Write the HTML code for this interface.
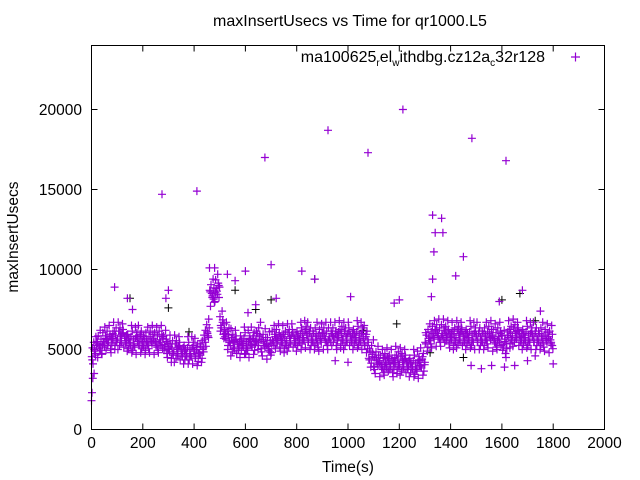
<!DOCTYPE html>
<html><head><meta charset="utf-8"><style>
body{margin:0;background:#fff}
svg{display:block;font-family:"Liberation Sans",sans-serif}
</style></head><body>
<svg id="chart" width="640" height="480" viewBox="0 0 640 480">
<text x="350" y="26" font-size="16" text-anchor="middle">maxInsertUsecs vs Time for qr1000.L5</text>
<text x="0" y="0" font-size="15.5" text-anchor="middle" transform="translate(18,237) rotate(-90)">maxInsertUsecs</text>
<text x="348" y="472" font-size="15.5" text-anchor="middle">Time(s)</text>
<g id="ticks"></g>
<g id="marks"></g>
<rect x="91.5" y="45.5" width="513" height="384" fill="none" stroke="#000" stroke-width="1"/>
<text x="545" y="62" font-size="16" text-anchor="end">ma100625<tspan font-size="10" dy="4">r</tspan><tspan dy="-4">el</tspan><tspan font-size="10" dy="4">w</tspan><tspan dy="-4">ithdbg.cz12a</tspan><tspan font-size="10" dy="4">c</tspan><tspan dy="-4">32r128</tspan></text>
<path d="M571 57h9M575.5 52.5v9" stroke="#9400d3" stroke-width="1.2"/>
</svg>
<script>
const xTicks=[0,200,400,600,800,1000,1200,1400,1600,1800,2000];
const yTicks=[0,5000,10000,15000,20000];
const bucketTimes=[0,20,40,60,80,100,120,140,160,180,200,220,240,260,280,300,320,340,360,380,400,420,440,460,480,500,520,540,560,580,600,620,640,660,680,700,720,740,760,780,800,820,840,860,880,900,920,940,960,980,1000,1020,1040,1060,1080,1100,1120,1140,1160,1180,1200,1220,1240,1260,1280,1300,1320,1340,1360,1380,1400,1420,1440,1460,1480,1500,1520,1540,1560,1580,1600,1620,1640,1660,1680,1700,1720,1740,1760,1780];
const bucketLevels=[4900,5300,5500,5600,5800,5800,5700,5600,5500,5600,5500,5600,5500,5600,5300,5000,5000,4900,4900,4900,4800,5000,6000,8500,8800,6500,5800,5400,5300,5500,5300,5500,5800,5400,5200,5600,5700,5600,5700,5700,5800,5900,5800,5800,5700,5800,5800,5800,5900,5800,5800,5900,5800,5600,4700,4300,4100,4200,4100,4300,4200,4100,4100,4000,4200,5700,5900,6000,6000,5900,5800,5900,5800,5900,5800,5800,5800,5900,5700,5800,5300,5900,6000,5800,5900,5800,5800,5800,5700,5600];
const jitterDt=[1,4,6,9,12,14,17,19,3,11,16];
const jitterDv=[-350,200,-800,550,0,-150,900,350,-550,100,-250];
const outlierTimes=[275,411,676,922,1078,1214,1483,1616,1330,1365,1340,1370,1450,1335,480,460,700,600,820,870,1010,1200,1325,90,300,290,1680,1590,0,2,5,10,640,720,1180,1750,1330,1420,140,160,1560,1520,1610,1650,1000,950,1800,1300,1480,530,560,610,1100,1140,1700,1730];
const outlierValues=[14700,14900,17000,18700,17300,20000,18200,16800,13400,13200,12300,12300,10800,11100,10100,10100,10300,9900,9900,9400,8300,8100,8300,8900,8700,8200,8700,8000,1800,2300,3200,3500,7800,8200,7900,7400,9400,9600,8200,7500,4000,3800,3900,4000,4200,4300,4100,4200,4000,9700,9300,7300,3900,4500,4300,4600];
const blackTimes=[150,300,560,640,700,870,1190,1320,1450,1600,1670,1730,380,1060];
const blackValues=[8200,7600,8700,7500,8100,9400,6600,4800,4500,8100,8500,6800,6100,6200];

const X=t=>91.5+t*(513/2000);
const Y=v=>429.5-v*(384/24000);
const NS='http://www.w3.org/2000/svg';
const tg=document.getElementById('ticks');
const mg=document.getElementById('marks');
function line(g,x1,y1,x2,y2,c,w){const l=document.createElementNS(NS,'line');l.setAttribute('x1',x1);l.setAttribute('y1',y1);l.setAttribute('x2',x2);l.setAttribute('y2',y2);l.setAttribute('stroke',c);l.setAttribute('stroke-width',w);g.appendChild(l);return l;}
xTicks.forEach(t=>{const x=X(t);
 const a=line(tg,x,429.5,x,423.5,'#000',1);
 
 
 const b=line(tg,x,45.5,x,51.5,'#000',1);
 
 
 const tx=document.createElementNS(NS,'text');tx.setAttribute('x',x);tx.setAttribute('y',448);tx.setAttribute('font-size','15.5');tx.setAttribute('text-anchor','middle');tx.textContent=t;
 
 
 tg.appendChild(tx);});
yTicks.forEach(v=>{const y=Y(v);
 const a=line(tg,91.5,y,97.5,y,'#000',1);
 
 
 const b=line(tg,604.5,y,598.5,y,'#000',1);
 
 
 const tx=document.createElementNS(NS,'text');tx.setAttribute('x',82);tx.setAttribute('y',y+5.5);tx.setAttribute('font-size','15.5');tx.setAttribute('text-anchor','end');tx.textContent=v;
 
 
 tg.appendChild(tx);});
let d='',db='';
function plus(t,v){const x=X(t),y=Y(v);return 'M'+(x-4).toFixed(1)+' '+y.toFixed(1)+'h8M'+x.toFixed(1)+' '+(y-4).toFixed(1)+'v8';}
bucketTimes.forEach((t,i)=>{jitterDt.forEach((dt,j)=>{d+=plus(t+dt,bucketLevels[i]+jitterDv[(j+i)%jitterDv.length]);});});
outlierTimes.forEach((t,i)=>{d+=plus(t,outlierValues[i]);});
blackTimes.forEach((t,i)=>{db+=plus(t,blackValues[i]);});
const pb=document.createElementNS(NS,'path');pb.setAttribute('d',db);pb.setAttribute('stroke','#000');pb.setAttribute('stroke-width','1');pb.setAttribute('fill','none');


mg.appendChild(pb);
const p=document.createElementNS(NS,'path');p.setAttribute('d',d);p.setAttribute('stroke','#9400d3');p.setAttribute('stroke-width','1.2');p.setAttribute('fill','none');


mg.appendChild(p);
</script>
</body></html>
